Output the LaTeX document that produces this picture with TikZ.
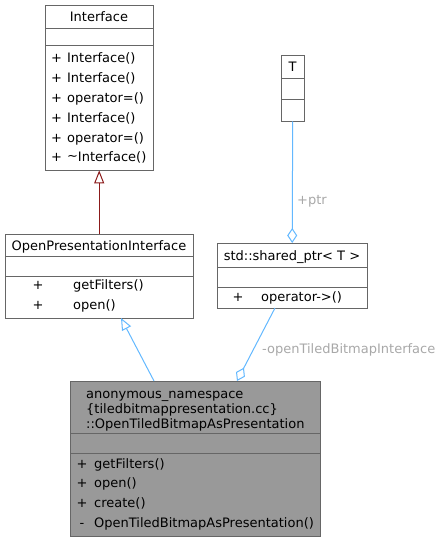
\documentclass[tikz,border=0pt]{standalone}
\usepackage{fontspec}
\setmainfont{DejaVu Sans}
\usetikzlibrary{arrows.meta}
\definecolor{boxline}{HTML}{666666}
\definecolor{boxfill}{HTML}{999999}
\definecolor{pubblue}{HTML}{63B8FF}
\definecolor{privred}{HTML}{8B1A1A}
\definecolor{lblgray}{HTML}{A8A8A8}
\tikzset{
  classbox/.style={draw=boxline, line width=1pt, fill=white},
  divider/.style={draw=boxline, line width=1pt},
  txt/.style={inner sep=0pt, font=\fontsize{13}{15}\selectfont, text=black, yshift=-2pt},
  lt/.style={txt, anchor=mid west},
  ct/.style={txt, anchor=mid},
  lbl/.style={inner sep=0pt, font=\fontsize{13}{15}\selectfont, text=lblgray, yshift=-2pt},
  inhblue/.style={draw=pubblue, line width=1pt, -{Triangle[open, length=12pt, width=10pt]}},
  inhred/.style={draw=privred, line width=1pt, -{Triangle[open, length=13pt, width=10pt]}},
  agg/.style={draw=pubblue, line width=1pt, -{Diamond[open, length=15pt, width=10pt]}},
}
\begin{document}
\begin{tikzpicture}[x=1pt, y=-1pt]
\useasboundingbox (0,0) rectangle (441,541);

% Interface
\path[classbox] (45,5) rectangle (153,170);
\node[inner sep=0pt, minimum width=108pt, minimum height=165pt, anchor=north west] (iface) at (45,5) {};
\draw[divider] (45,28) -- (153,28);
\draw[divider] (45,45) -- (153,45);
\node[ct] (ifacet) at (99,17) {Interface};
\node[lt] (if1) at (51,58) {+\hspace{5pt}Interface()};
\node[lt] (if2) at (51,78) {+\hspace{5pt}Interface()};
\node[lt] (if3) at (51,98) {+\hspace{5pt}operator=()};
\node[lt] (if4) at (51,118) {+\hspace{5pt}Interface()};
\node[lt] (if5) at (51,138) {+\hspace{5pt}operator=()};
\node[lt] (if6) at (51,157) {+\hspace{5pt}\raisebox{1pt}{\textasciitilde}Interface()};

% OpenPresentationInterface
\path[classbox] (5,234) rectangle (193,318);
\node[inner sep=0pt, minimum width=188pt, minimum height=84pt, anchor=north west] (opi) at (5,234) {};
\draw[divider] (5,256) -- (193,256);
\draw[divider] (5,276) -- (193,276);
\node[ct] (opit) at (99,245.5) {OpenPresentationInterface};
\node[ct] (opip1) at (38,285) {+};
\node[lt] (opim1) at (73,285) {getFilters()};
\node[ct] (opip2) at (38,305) {+};
\node[lt] (opim2) at (73,305) {open()};

% T
\path[classbox] (281,55) rectangle (304,121);
\node[inner sep=0pt, minimum width=23pt, minimum height=66pt, anchor=north west] (T) at (281,55) {};
\draw[divider] (281,78) -- (304,78);
\draw[divider] (281,99) -- (304,99);
\node[ct] (Tt) at (292.5,67) {T};

% shared_ptr
\path[classbox] (217,243) rectangle (367,308);
\node[inner sep=0pt, minimum width=150pt, minimum height=65pt, anchor=north west] (sp) at (217,243) {};
\draw[divider] (217,267) -- (367,267);
\draw[divider] (217,287) -- (367,287);
\node[ct] (spt) at (292,255.5) {std::shared\_ptr< T >};
\node[ct] (spp) at (238,297) {+};
\node[lt] (spm) at (261,297) {operator->()};

% bottom class
\path[classbox, fill=boxfill] (70,381) rectangle (320,536);
\node[inner sep=0pt, minimum width=250pt, minimum height=155pt, anchor=north west] (bot) at (70,381) {};
\draw[divider] (70,433) -- (320,433);
\draw[divider] (70,453) -- (320,453);
\node[lt] (bt1) at (86,394) {anonymous\_namespace};
\node[lt] (bt2) at (86,409) {\{tiledbitmappresentation.cc\}};
\node[lt] (bt3) at (86,423.5) {::OpenTiledBitmapAsPresentation};
\node[ct] (bp1) at (82,464) {+};
\node[lt] (bm1) at (94,464) {getFilters()};
\node[ct] (bp2) at (82,483) {+};
\node[lt] (bm2) at (94,483) {open()};
\node[ct] (bp3) at (82,503) {+};
\node[lt] (bm3) at (94,503) {create()};
\node[ct] (bp4) at (82,523) {-};
\node[lt] (bm4) at (94,523) {OpenTiledBitmapAsPresentation()};

% connector end points
\coordinate (botinh) at (154,381);
\coordinate (opiin) at (121,318);
\coordinate (spout) at (275,308);
\coordinate (botagg) at (237,381);

% connectors
\draw[inhred] (opi.north) -- (iface.south);
\draw[inhblue] (botinh) -- (opiin);
\draw[agg] (T.south) -- (sp.north);
\draw[agg] (spout) -- (botagg);

% labels
\node[lbl, anchor=mid west] (ptrlbl) at (297,200) {+ptr};
\node[lbl, anchor=mid west] (otlbl) at (262,349) {-openTiledBitmapInterface};
\end{tikzpicture}
\end{document}
